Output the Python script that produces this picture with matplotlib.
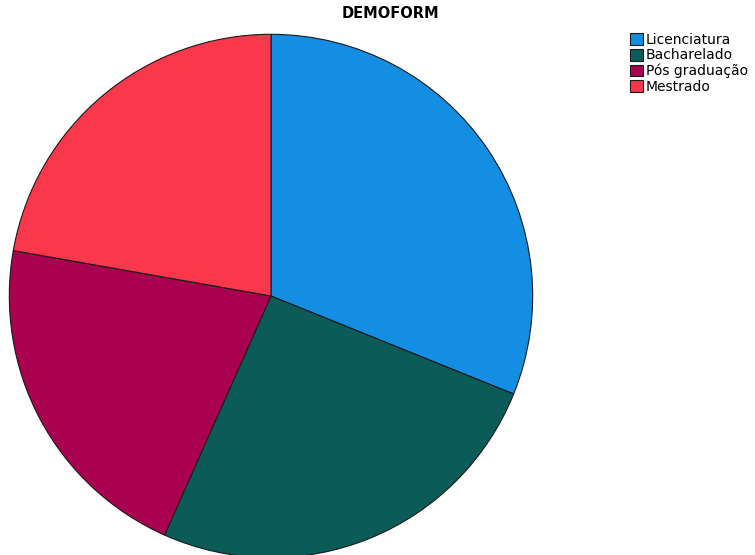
import matplotlib
matplotlib.use("Agg")
import matplotlib.pyplot as plt

title = "DEMOFORM"
categories = ["Licenciatura", "Bacharelado", "Pós graduação", "Mestrado"]
counts = [28, 23, 19, 20]
colors = ["#138ee3", "#0b5c58", "#aa0050", "#fa374b"]

fig = plt.figure(figsize=(7.55, 5.55), dpi=100)
cx, cy, r = 271, 296, 263
W, H = 755, 555
ax = fig.add_axes([(cx - r) / W, (H - cy - r) / H, 2 * r / W, 2 * r / H])
wedges, _ = ax.pie(counts, colors=colors, startangle=90, counterclock=False,
                   radius=1, wedgeprops=dict(edgecolor="#1a1a1a", linewidth=0.8))
ax.set_xlim(-1.005, 1.005)
ax.set_ylim(-1.005, 1.005)
ax.set_axis_off()

fig.text(390 / W, 1 - 14 / H, title, ha="center", va="center",
         fontsize=10.5, fontweight="bold", family="DejaVu Sans")

leg = fig.legend(wedges, categories, loc="upper left",
                 bbox_to_anchor=(630 / W, 1 - 33 / H), frameon=False,
                 fontsize=10, handlelength=0.95, handleheight=0.95,
                 handletextpad=0.2, labelspacing=0.1, borderaxespad=0,
                 borderpad=0)

fig.savefig("out.png", dpi=100)
